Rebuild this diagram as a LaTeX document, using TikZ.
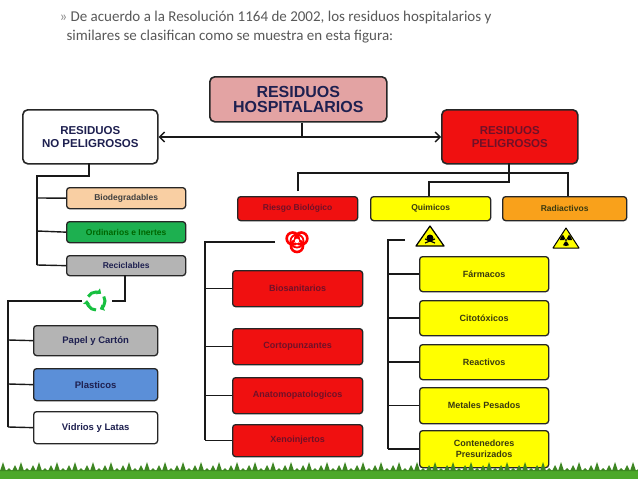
\documentclass[tikz,border=0pt]{standalone}
\usepackage{fontspec}
\setmainfont{Liberation Sans}
\newfontfamily\hdfont{Carlito}
\usetikzlibrary{arrows.meta}
\definecolor{pinkb}{HTML}{E3A3A3}
\definecolor{redb}{HTML}{F01010}
\definecolor{yelb}{HTML}{FFFF00}
\definecolor{orab}{HTML}{F9A11B}
\definecolor{peach}{HTML}{F9CFA3}
\definecolor{greenb}{HTML}{1DB050}
\definecolor{grayb}{HTML}{B4B4B4}
\definecolor{blueb}{HTML}{5B8FD8}
\definecolor{navy}{HTML}{1E2050}
\definecolor{dred}{HTML}{701028}
\definecolor{olive}{HTML}{3A3A10}
\definecolor{grass}{HTML}{4CA82A}
\tikzset{
 bx/.style={draw=black!85, line width=1.3pt, rounded corners=3pt, inner sep=0pt, anchor=north west, align=center, font=\bfseries\fontsize{8.5}{9}\selectfont},
 big/.style={bx, line width=1.6pt, rounded corners=5pt, font=\bfseries\fontsize{16}{15}\selectfont, text=navy},
 ln/.style={line width=1.4pt, black!90},
}
\begin{document}
\begin{tikzpicture}[x=1pt,y=-1pt]
\useasboundingbox (0,0) rectangle (638,479);
\fill[white] (0,0) rectangle (638,479);
\node[anchor=west, text=black!65, font=\hdfont\fontsize{15}{15}\selectfont] (h1) at (56,18) {\textcolor{black!45}{»} De acuerdo a la Resolución 1164 de 2002, los residuos hospitalarios y};
\node[anchor=west, text=black!65, font=\hdfont\fontsize{15}{15}\selectfont] (h2) at (63,37) {similares se clasifican como se muestra en esta figura:};
% main
\node[big, fill=pinkb, minimum width=177pt, minimum height=45pt] (hosp) at (209,76) {RESIDUOS\\HOSPITALARIOS};
\node[big, fill=white, minimum width=135pt, minimum height=54pt, font=\bfseries\fontsize{11.5}{13}\selectfont] (nop) at (22,109) {RESIDUOS\\NO PELIGROSOS};
\node[big, fill=redb, minimum width=136pt, minimum height=54pt, font=\bfseries\fontsize{11.5}{13}\selectfont, text=dred] (pel) at (441,109) {RESIDUOS\\PELIGROSOS};
\coordinate (j0) at (302,137);
\draw[ln] (hosp.south -| j0) -- (j0);
\draw[ln, -{Straight Barb[length=5pt]}] (j0) -- (nop.east |- j0);
\draw[ln, -{Straight Barb[length=5pt]}] (j0) -- (pel.west |- j0);
% no peligrosos
\node[bx, fill=peach, minimum width=119pt, minimum height=21pt, text=black!75] (bio) at (66,187) {Biodegradables};
\node[bx, fill=greenb, minimum width=119pt, minimum height=21pt, text=black!60!green] (ord) at (66,221) {Ordinarios e Inertes};
\node[bx, fill=grayb, minimum width=119pt, minimum height=20pt, text=navy] (rec) at (66,255) {Reciclables};
\draw[ln] (89,163) -- (89,176) -- (37,176) -- (37,265);
\draw[ln] (37,198) -- (bio.west); \draw[ln] (37,231) -- (ord.west); \draw[ln] (37,265) -- (rec.west);
% recycle
\coordinate (rc) at (96,301);
\draw[ln] (125,275) -- (125,301) -- (112,301);
\foreach \a in {90,210,330}{
 \draw[line width=3pt, greenb!80!green, -{Triangle[length=4pt,width=7pt]}] (rc) ++(\a:9) arc[start angle=\a, end angle=\a+95, radius=9];
}
\node[bx, fill=grayb, minimum width=124pt, minimum height=30pt, text=navy, font=\bfseries\fontsize{9.5}{10}\selectfont] (pap) at (33,325) {Papel y Cartón};
\node[bx, fill=blueb, minimum width=124pt, minimum height=32pt, text=navy, font=\bfseries\fontsize{9.5}{10}\selectfont] (pla) at (33,368) {Plasticos};
\node[bx, fill=white, minimum width=124pt, minimum height=32pt, text=navy, font=\bfseries\fontsize{9.5}{10}\selectfont] (vid) at (33,411) {Vidrios y Latas};
\draw[ln] (82,301) -- (8,301) -- (8,427);
\draw[ln] (8,340) -- (pap.west); \draw[ln] (8,384) -- (pla.west); \draw[ln] (8,427) -- (vid.west);
% peligrosos level
\node[bx, fill=redb, minimum width=120pt, minimum height=24pt, text=dred] (rb) at (237,196) {Riesgo Biológico};
\node[bx, fill=yelb, minimum width=120pt, minimum height=24pt, text=olive] (qu) at (370,196) {Quimicos};
\node[bx, fill=orab, minimum width=124pt, minimum height=24pt, text=olive] (ra) at (502,196) {Radiactivos};
\draw[ln] (509,163) -- (509,173);
\draw[ln] (298,191) -- (298,173) -- (568,173) -- (568,196);
\draw[ln] (509,173) -- (509,182) -- (429,182) -- (429,196);
% biohazard
\begin{scope}[shift={(297,241)}]
\foreach \a in {90,210,330}{\draw[line width=2.6pt, red] (\a:5) circle[radius=6];}
\fill[white] (0,0) circle[radius=2.2];
\draw[line width=1.8pt, red] (0,0) circle[radius=6.5];
\end{scope}
\draw[ln] (275,242) -- (205,242) -- (205,440);
\foreach \n/\t/\y/\h in {bs/Biosanitarios/270/36, cp/Cortopunzantes/328/36, an/Anatomopatologicos/377/36, xe/Xenoinjertos/424/32}{
 \node[bx, fill=redb, minimum width=130pt, minimum height=\h pt, text=dred, font=\bfseries\fontsize{9}{10}\selectfont] (\n) at (232,\y) {\t};
 \draw[ln] (\n.west) -- (\n.west -| 205,0);
}
% triangles
\begin{scope}[shift={(430,238)}]
\draw[line width=1.2pt, fill=yelb, line join=round] (-14,8) -- (0,-12) -- (14,8) -- cycle;
\fill[black] (0,0) circle[radius=3.5]; \draw[line width=1.2pt] (-5,5) -- (5,1) (-5,1) -- (5,5);
\end{scope}
\begin{scope}[shift={(566,240)}]
\draw[line width=1pt, fill=yelb, line join=round] (-13,8) -- (0,-12) -- (13,8) -- cycle;
\foreach \a in {90,210,330}{\fill[black] (0,0) -- (\a-30:6) arc[start angle=\a-30,end angle=\a+30,radius=6] -- cycle;}
\fill[yelb] (0,0) circle[radius=1.8]; \fill (0,0) circle[radius=1.1];
\end{scope}
\draw[ln] (405,240) -- (388,240) -- (388,449);
\foreach \n/\t/\y/\h in {fa/Fármacos/256/35, ci/Citotóxicos/300/35, re/Reactivos/344/35, me/Metales Pesados/387/36, co/{Contenedores\\Presurizados}/430/37}{
 \node[bx, fill=yelb, minimum width=129pt, minimum height=\h pt, text=olive, font=\bfseries\fontsize{9}{11}\selectfont] (\n) at (419,\y) {\t};
 \draw[ln] (\n.west) -- (\n.west -| 388,0);
}
% grass
\fill[grass] (0,470) rectangle (638,479);
\foreach \x in {0,6,...,636}{
 \pgfmathsetmacro{\hh}{462+mod(\x*7,9)}
 \fill[grass!80!black] (\x,471) -- (\x+3,\hh) -- (\x+6,471) -- cycle;
}
\end{tikzpicture}
\end{document}
